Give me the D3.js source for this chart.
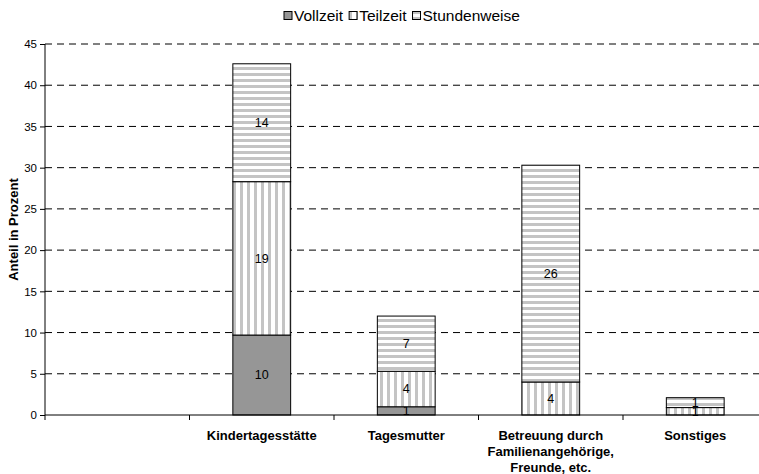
<!DOCTYPE html>
<html>
<head>
<meta charset="UTF-8">
<title>Betreuungsform</title>
<style>
  body { margin: 0; background: #fff; }
  text { font-family: "Liberation Sans", Arial, sans-serif; fill: #000; }
  .grid line { stroke: #000; stroke-dasharray: 7,5; }
  .catlabel { font-weight: bold; font-size: 13px; }
</style>
</head>
<body>
<svg id="chart" width="759" height="474"></svg>
<script src="https://cdn.jsdelivr.net/npm/d3@7"></script>
<script>
// categories (first slot is empty in the original)
var categories = ["", "Kindertagesstätte", "Tagesmutter", "Betreuung durch Familienangehörige, Freunde, etc.", "Sonstiges"];
var catLines = [[], ["Kindertagesstätte"], ["Tagesmutter"], ["Betreuung durch", "Familienangehörige,", "Freunde, etc."], ["Sonstiges"]];
var seriesNames = ["Vollzeit", "Teilzeit", "Stundenweise"];
var vollzeit = [0, 9.7, 1.0, 0, 0];
var teilzeit = [0, 18.6, 4.3, 4.0, 0.9];
var stundenweise = [0, 14.3, 6.7, 26.3, 1.2];
var yTicks = [0, 5, 10, 15, 20, 25, 30, 35, 40, 45];

var rows = categories.map(function (c, i) {
  return { cat: c, Vollzeit: vollzeit[i], Teilzeit: teilzeit[i], Stundenweise: stundenweise[i] };
});

var svg = d3.select("#chart");
var plotLeft = 45, plotRight = 767.5, plotTop = 44, plotBottom = 415;

var defs = svg.append("defs");
var vp = defs.append("pattern").attr("id", "vstripe").attr("patternUnits", "userSpaceOnUse")
  .attr("width", 7).attr("height", 7);
vp.append("rect").attr("width", 7).attr("height", 7).attr("fill", "#fff");
vp.append("rect").attr("x", 2).attr("width", 3).attr("height", 7).attr("fill", "#c4c4c4");
var hp = defs.append("pattern").attr("id", "hstripe").attr("patternUnits", "userSpaceOnUse")
  .attr("width", 7).attr("height", 6);
hp.append("rect").attr("width", 7).attr("height", 6).attr("fill", "#fff");
hp.append("rect").attr("y", 1).attr("width", 7).attr("height", 3).attr("fill", "#c4c4c4");

var fills = { Vollzeit: "#969696", Teilzeit: "url(#vstripe)", Stundenweise: "url(#hstripe)" };

var x = d3.scaleBand().domain(categories).range([plotLeft, plotRight]).padding(0);
var y = d3.scaleLinear().domain([0, 45]).range([plotBottom, plotTop]);

// gridlines
svg.append("g").attr("class", "grid")
  .selectAll("line").data(yTicks.slice(1)).join("line")
  .attr("x1", plotLeft).attr("x2", 759)
  .attr("y1", function (d) { return y(d); }).attr("y2", function (d) { return y(d); });

// stacked bars
var stack = d3.stack().keys(seriesNames)(rows);
var barW = x.bandwidth() * 0.4;
var layers = svg.append("g").selectAll("g").data(stack).join("g")
  .attr("fill", function (d) { return fills[d.key]; });
layers.selectAll("rect")
  .data(function (d) { return d.filter(function (p) { return p[1] - p[0] > 0; }); })
  .join("rect")
  .attr("x", function (d) { return x(d.data.cat) + (x.bandwidth() - barW) / 2; })
  .attr("width", barW)
  .attr("y", function (d) { return y(d[1]); })
  .attr("height", function (d) { return y(d[0]) - y(d[1]); })
  .attr("stroke", "#000").attr("stroke-width", 1);

// value labels
layers.selectAll("text")
  .data(function (d) { return d.filter(function (p) { return p[1] - p[0] > 0; }); })
  .join("text")
  .attr("x", function (d) { return x(d.data.cat) + x.bandwidth() / 2; })
  .attr("y", function (d) { return (y(d[0]) + y(d[1])) / 2; })
  .attr("dy", "0.35em").attr("text-anchor", "middle").attr("font-size", 12.5)
  .text(function (d) { return Math.round(d[1] - d[0]); });

// y axis
var yAxis = svg.append("g").attr("transform", "translate(" + plotLeft + ",0)")
  .call(d3.axisLeft(y).tickValues(yTicks).tickSize(5).tickPadding(3));
yAxis.select(".domain").attr("d", "M0," + plotTop + "V" + plotBottom);
yAxis.selectAll("text").attr("font-size", 11.5);
yAxis.selectAll("line, path").attr("stroke", "#000");

// x axis
var xAxis = svg.append("g").attr("transform", "translate(0," + plotBottom + ")");
xAxis.append("line").attr("x1", plotLeft).attr("x2", 759).attr("stroke", "#000");
xAxis.selectAll(".xtick").data(categories).join("line")
  .attr("class", "xtick")
  .attr("x1", function (d) { return x(d); }).attr("x2", function (d) { return x(d); })
  .attr("y1", 0).attr("y2", 5).attr("stroke", "#000");
xAxis.selectAll(".catlabel").data(categories).join("text")
  .attr("class", "catlabel").attr("text-anchor", "middle")
  .attr("x", function (d) { return x(d) + x.bandwidth() / 2; })
  .attr("y", 25)
  .selectAll("tspan").data(function (d, i) { return catLines[i]; }).join("tspan")
  .attr("x", function () { return x(d3.select(this.parentNode).datum()) + x.bandwidth() / 2; })
  .attr("dy", function (d, i) { return i ? 16 : 0; })
  .text(function (d) { return d; });

// y label
svg.append("text").attr("transform", "translate(18," + ((plotTop + plotBottom) / 2) + ") rotate(-90)")
  .attr("text-anchor", "middle").attr("font-weight", "bold").attr("font-size", 13)
  .text("Anteil in Prozent");

// legend
var legend = svg.append("g").attr("transform", "translate(284,16)");
var lx = 0;
seriesNames.forEach(function (s) {
  legend.append("rect").attr("x", lx).attr("y", -4.5).attr("width", 8).attr("height", 8)
    .attr("fill", fills[s]).attr("stroke", "#000");
  var t = legend.append("text").attr("x", lx + 10).attr("dy", "0.35em").attr("font-size", 15.5).text(s);
  lx += 10 + t.node().getComputedTextLength() + 6;
});
</script>
</body>
</html>
